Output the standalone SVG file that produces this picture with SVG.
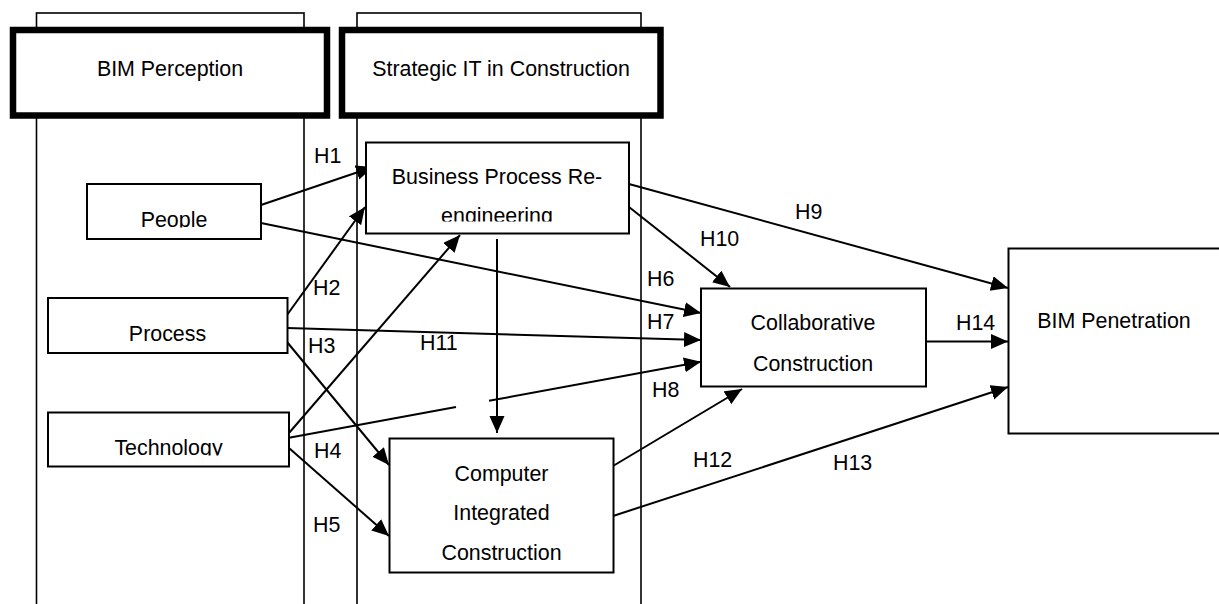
<svg xmlns="http://www.w3.org/2000/svg" width="1219" height="604" viewBox="0 0 1219 604">
<style>
text{font-family:"Liberation Sans",Arial,sans-serif;font-size:21.4px;fill:#000}
.c{text-anchor:middle}
.lane{fill:none;stroke:#000;stroke-width:1.6}
.hdr{fill:#fff;stroke:#000;stroke-width:6.5}
.box{fill:#fff;stroke:#000;stroke-width:2}
.ln{stroke:#000;stroke-width:2;fill:none;marker-end:url(#ah)}
.pl{stroke:#000;stroke-width:2;fill:none}
</style>
<defs>
<marker id="ah" markerUnits="userSpaceOnUse" markerWidth="18" markerHeight="16" refX="17" refY="7.5" orient="auto">
<path d="M0,0 L17,7.5 L0,15 z" fill="#000"/>
</marker>
<clipPath id="cpPeople"><rect x="87" y="184" width="174" height="43.5"/></clipPath>
<clipPath id="cpTech"><rect x="48" y="412" width="241" height="43.5"/></clipPath>
<clipPath id="cpBpr"><rect x="366" y="142" width="263" height="79.5"/></clipPath>
</defs>
<rect width="1219" height="604" fill="#fff"/>
<g id="lane-bim-perception">
<rect class="lane" x="36.5" y="13" width="267.5" height="640"/>
<rect class="hdr" x="13" y="30" width="314" height="85.5"/>
<text class="c" x="170" y="76">BIM Perception</text>
</g>
<g id="lane-strategic-it">
<rect class="lane" x="357" y="13" width="284" height="640"/>
<rect class="hdr" x="342" y="30" width="318.5" height="85.5"/>
<text class="c" x="501" y="76">Strategic IT in Construction</text>
</g>
<g id="connectors">
<line class="ln" x1="261" y1="205" x2="373" y2="167"/>
<line class="ln" x1="261" y1="223" x2="701" y2="313"/>
<line class="ln" x1="287" y1="315" x2="365" y2="207"/>
<line class="ln" x1="287" y1="328" x2="701" y2="340"/>
<line class="ln" x1="287" y1="342" x2="389" y2="465"/>
<line class="ln" x1="289" y1="433" x2="460" y2="235"/>
<line class="pl" x1="289" y1="437.7" x2="456" y2="406.9"/>
<line class="ln" x1="489" y1="400.8" x2="701" y2="361.7"/>
<line class="ln" x1="289" y1="448" x2="389" y2="536"/>
<line class="ln" x1="497" y1="239" x2="497" y2="433"/>
<line class="ln" x1="629" y1="184" x2="1008" y2="288"/>
<line class="ln" x1="629" y1="207" x2="730" y2="287"/>
<line class="ln" x1="613" y1="466" x2="742" y2="389"/>
<line class="ln" x1="613" y1="516" x2="1008" y2="387"/>
<line class="ln" x1="926" y1="341.5" x2="1008" y2="341.5"/>
</g>
<g id="labels">
<text x="314" y="163">H1</text>
<text x="313" y="295">H2</text>
<text x="308" y="353">H3</text>
<text x="314" y="458">H4</text>
<text x="313" y="532">H5</text>
<text x="647" y="286">H6</text>
<text x="647" y="329">H7</text>
<text x="652" y="397">H8</text>
<text x="795" y="219">H9</text>
<text x="700" y="246">H10</text>
<text x="420" y="350">H11</text>
<text x="693" y="467">H12</text>
<text x="833" y="470">H13</text>
<text x="956" y="330">H14</text>
</g>
<g id="node-people">
<rect class="box" x="87" y="184" width="174" height="55"/>
<text class="c" x="174" y="227" clip-path="url(#cpPeople)">People</text>
</g>
<g id="node-process">
<rect class="box" x="48" y="298" width="239.5" height="55"/>
<text class="c" x="167.5" y="341">Process</text>
</g>
<g id="node-technology">
<rect class="box" x="48" y="412.5" width="241" height="54"/>
<text class="c" x="168.5" y="455" clip-path="url(#cpTech)">Technology</text>
</g>
<g id="node-bpr">
<rect class="box" x="366" y="142.5" width="263" height="91"/>
<text class="c" x="497" y="184">Business Process Re-</text>
<text class="c" x="497" y="223" clip-path="url(#cpBpr)">engineering</text>
</g>
<g id="node-collab">
<rect class="box" x="701" y="288.5" width="225" height="98"/>
<text class="c" x="813" y="330">Collaborative</text>
<text class="c" x="813" y="370.5">Construction</text>
</g>
<g id="node-cic">
<rect class="box" x="389.5" y="438.5" width="224" height="134"/>
<text class="c" x="501.5" y="480.5">Computer</text>
<text class="c" x="501.5" y="520">Integrated</text>
<text class="c" x="501.5" y="560">Construction</text>
</g>
<g id="node-bim-penetration">
<rect class="box" x="1008.5" y="248.5" width="260" height="185"/>
<text class="c" x="1114" y="328">BIM Penetration</text>
</g>
</svg>
